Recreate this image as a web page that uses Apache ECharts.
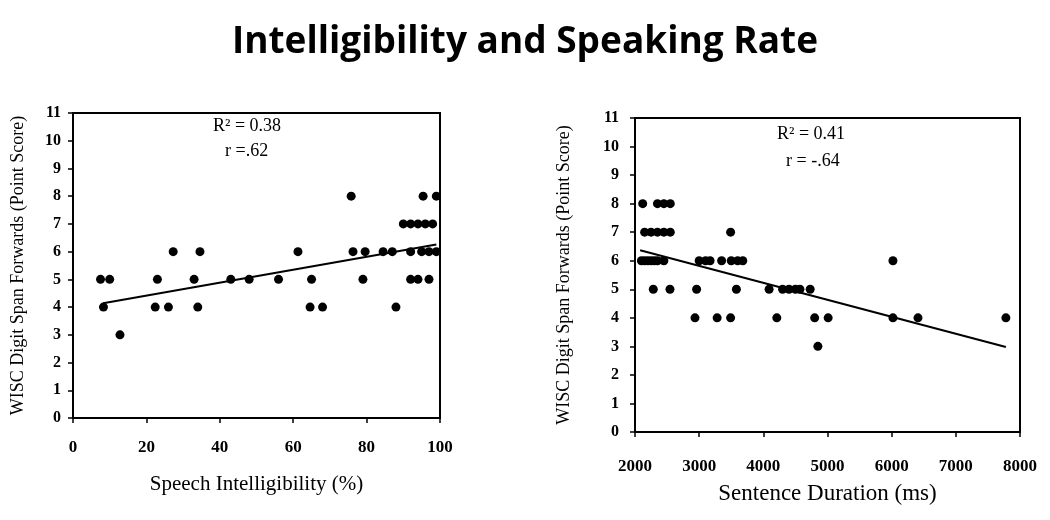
<!DOCTYPE html>
<html>
<head>
<meta charset="utf-8">
<script src="https://cdn.jsdelivr.net/npm/echarts@6/dist/echarts.min.js"></script>
<style>html,body{margin:0;padding:0;background:#fff}#c{width:1050px;height:520px}</style>
</head>
<body>
<div id="c"></div>
<script>
// ---- Data ----
const leftX = [7.5, 10, 23, 33, 43, 48, 56, 65, 79, 92, 94, 97,
               8.3, 22.4, 26, 34, 64.6, 68, 88,
               12.8,
               27.3, 34.6, 61.3, 76.3, 79.6, 84.5, 87, 92, 95, 97, 99,
               90, 92, 94, 96, 98,
               75.8, 95.4, 99];
const leftY = [5, 5, 5, 5, 5, 5, 5, 5, 5, 5, 5, 5,
               4, 4, 4, 4, 4, 4, 4,
               3,
               6, 6, 6, 6, 6, 6, 6, 6, 6, 6, 6,
               7, 7, 7, 7, 7,
               8, 8, 8];
const leftFitX = [8.2, 99];
const leftFitY = [4.14, 6.26];

const rightX = [2120, 2350, 2450, 2550,
                2150, 2250, 2350, 2450, 2550, 3490,
                2100, 2150, 2200, 2250, 2300, 2350, 2450, 3000, 3100, 3170, 3350, 3500, 3600, 3680, 6020,
                2285, 2545, 2960, 3580, 4090, 4300, 4400, 4500, 4570, 4730,
                2935, 3280, 3490, 4210, 4800, 5010, 6020, 6410, 7780,
                4850];
const rightY = [8, 8, 8, 8,
                7, 7, 7, 7, 7, 7,
                6, 6, 6, 6, 6, 6, 6, 6, 6, 6, 6, 6, 6, 6, 6,
                5, 5, 5, 5, 5, 5, 5, 5, 5, 5,
                4, 4, 4, 4, 4, 4, 4, 4, 4,
                3];
const rightFitX = [2080, 7780];
const rightFitY = [6.37, 2.98];

const yTicks = {min: 0, max: 11, interval: 1};
const leftXTicks = {min: 0, max: 100, interval: 20};
const rightXTicks = {min: 2000, max: 8000, interval: 1000};

const titleText = 'Intelligibility and Speaking Rate';
const yName = 'WISC Digit Span Forwards (Point Score)';
const leftXName = 'Speech Intelligibility (%)';
const rightXName = 'Sentence Duration (ms)';
const leftNote = ['R\u00B2 = 0.38', 'r =.62'];
const rightNote = ['R\u00B2 = 0.41', 'r = -.64'];

// ---- Build ----
const zip = (a, b) => a.map((v, i) => [v, b[i]]);
const serif = 'Liberation Serif';
const axisLine = {show: true, lineStyle: {color: '#000', width: 2}};
const axisTick = {show: true, length: 5, lineStyle: {color: '#000', width: 1.5}};

function xAxis(idx, t, name, gap, margin, nameSize) {
  return {
    type: 'value', gridIndex: idx, min: t.min, max: t.max, interval: t.interval,
    name: name, nameLocation: 'middle', nameGap: gap,
    nameTextStyle: {fontFamily: serif, fontSize: nameSize, color: '#000'},
    axisLine: axisLine, axisTick: axisTick, splitLine: {show: false},
    axisLabel: {fontFamily: serif, fontWeight: 'bold', fontSize: 17, color: '#000', margin: margin,
                formatter: v => String(v)}
  };
}
function yAxis(idx, gap, margin) {
  return {
    type: 'value', gridIndex: idx, min: yTicks.min, max: yTicks.max, interval: yTicks.interval,
    name: yName, nameLocation: 'middle', nameGap: gap,
    nameTextStyle: {fontFamily: serif, fontSize: 18, color: '#000'},
    axisLine: axisLine, axisTick: axisTick, splitLine: {show: false},
    axisLabel: {fontFamily: serif, fontWeight: 'bold', fontSize: 16, color: '#000', margin: margin}
  };
}

const noteFont = '18px "Liberation Serif"';
const chart = echarts.init(document.getElementById('c'), null, {renderer: 'canvas'});
chart.setOption({
  backgroundColor: '#fff',
  animation: false,
  title: {
    text: titleText, left: 'center', top: 19,
    textStyle: {fontFamily: 'Open Sans', fontWeight: 'bold', fontSize: 37, color: '#000'}
  },
  grid: [
    {left: 73, top: 113, width: 367, height: 305, show: true, borderColor: '#000', borderWidth: 2},
    {left: 635, top: 118, width: 385, height: 314, show: true, borderColor: '#000', borderWidth: 2}
  ],
  xAxis: [
    xAxis(0, leftXTicks, leftXName, 56, 21, 21),
    xAxis(1, rightXTicks, rightXName, 50, 26, 23)
  ],
  yAxis: [
    yAxis(0, 46, 12),
    yAxis(1, 62, 16)
  ],
  graphic: [
    {type: 'text', left: 213, top: 117, style: {text: leftNote[0], font: noteFont, fill: '#000'}},
    {type: 'text', left: 225, top: 142, style: {text: leftNote[1], font: noteFont, fill: '#000'}},
    {type: 'text', left: 777, top: 125, style: {text: rightNote[0], font: noteFont, fill: '#000'}},
    {type: 'text', left: 786, top: 152, style: {text: rightNote[1], font: noteFont, fill: '#000'}}
  ],
  series: [
    {type: 'scatter', xAxisIndex: 0, yAxisIndex: 0, data: zip(leftX, leftY), symbolSize: 9, itemStyle: {color: '#000', opacity: 1}},
    {type: 'line', xAxisIndex: 0, yAxisIndex: 0, data: zip(leftFitX, leftFitY), symbol: 'none', lineStyle: {color: '#000', width: 2}},
    {type: 'scatter', xAxisIndex: 1, yAxisIndex: 1, data: zip(rightX, rightY), symbolSize: 9, itemStyle: {color: '#000', opacity: 1}},
    {type: 'line', xAxisIndex: 1, yAxisIndex: 1, data: zip(rightFitX, rightFitY), symbol: 'none', lineStyle: {color: '#000', width: 2}}
  ]
});
</script>
</body>
</html>
